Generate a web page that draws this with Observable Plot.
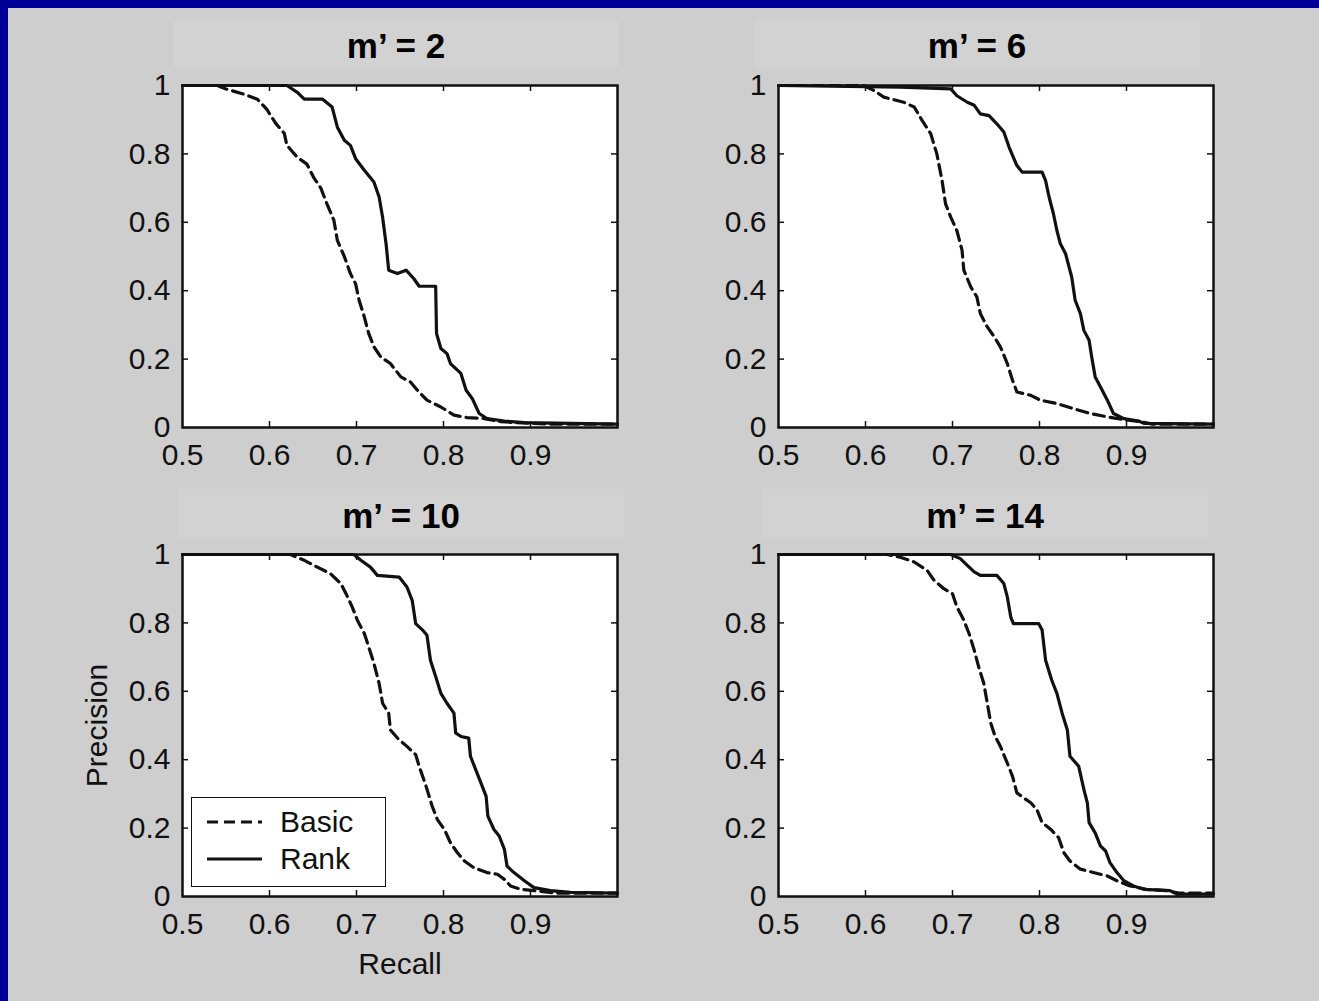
<!DOCTYPE html>
<html><head><meta charset="utf-8">
<script src="https://cdn.jsdelivr.net/npm/d3@7"></script>
<script src="https://cdn.jsdelivr.net/npm/@observablehq/plot@0.6"></script>
<style>
html,body{margin:0;padding:0;background:#cecece;}
#fig{position:relative;width:1319px;height:1001px;background:#cecece;overflow:hidden;font-family:"Liberation Sans",Arial,sans-serif;}
.blue-l{position:absolute;left:0;top:0;width:8px;height:1001px;background:#000099;}
.blue-t{position:absolute;left:0;top:0;width:1319px;height:8px;background:#000099;}
.tbar{position:absolute;width:446px;background:#d2d2d2;text-align:center;font-weight:bold;font-size:35px;color:#000;}
.panel{position:absolute;}
.legend{position:absolute;background:#fff;border:1.5px solid #111;box-sizing:border-box;}
.legend .row{position:absolute;left:0;height:30px;display:flex;align-items:center;font-size:30px;color:#111;}
</style></head>
<body><div id="fig"><div class="blue-l"></div><div class="blue-t"></div></div>
<script>
// ---- data ----
const titles = ["m\u2019 = 2", "m\u2019 = 6", "m\u2019 = 10", "m\u2019 = 14"];
const seriesNames = ["Basic", "Rank"];
const xTicks = [0.5, 0.6, 0.7, 0.8, 0.9];
const yTicks = [0, 0.2, 0.4, 0.6, 0.8, 1];

const basic_m2 = [[0.5,1],[0.54,1],[0.55,0.99],[0.57,0.975],[0.586,0.96],[0.597,0.93],[0.607,0.89],[0.617,0.86],[0.62,0.825],[0.632,0.79],[0.643,0.77],[0.651,0.73],[0.659,0.70],[0.666,0.654],[0.674,0.606],[0.678,0.547],[0.686,0.50],[0.693,0.45],[0.699,0.42],[0.703,0.372],[0.709,0.323],[0.714,0.275],[0.72,0.236],[0.728,0.206],[0.739,0.187],[0.751,0.148],[0.762,0.133],[0.77,0.109],[0.781,0.08],[0.797,0.06],[0.812,0.036],[0.827,0.029],[0.847,0.026],[0.866,0.017],[0.885,0.014],[0.92,0.01],[1.0,0.01]];
const rank_m2 = [[0.5,1],[0.62,1],[0.632,0.98],[0.64,0.96],[0.661,0.96],[0.672,0.937],[0.678,0.878],[0.686,0.84],[0.693,0.825],[0.699,0.786],[0.709,0.752],[0.72,0.718],[0.726,0.674],[0.73,0.615],[0.734,0.537],[0.737,0.46],[0.747,0.45],[0.757,0.46],[0.766,0.435],[0.772,0.413],[0.791,0.413],[0.792,0.275],[0.797,0.231],[0.804,0.216],[0.808,0.187],[0.82,0.158],[0.826,0.109],[0.833,0.085],[0.841,0.041],[0.85,0.026],[0.87,0.019],[0.893,0.014],[1.0,0.01]];

const basic_m6 = [[0.5,1],[0.598,1],[0.61,0.985],[0.621,0.966],[0.644,0.951],[0.656,0.937],[0.665,0.898],[0.675,0.859],[0.682,0.80],[0.688,0.722],[0.692,0.654],[0.698,0.615],[0.705,0.576],[0.711,0.518],[0.713,0.46],[0.721,0.411],[0.728,0.382],[0.732,0.333],[0.74,0.294],[0.748,0.265],[0.755,0.236],[0.763,0.187],[0.769,0.138],[0.774,0.104],[0.79,0.094],[0.801,0.08],[0.82,0.07],[0.839,0.055],[0.858,0.041],[0.878,0.031],[0.897,0.023],[0.916,0.017],[0.93,0.01],[1.0,0.01]];
const rank_m6 = [[0.5,1],[0.64,0.995],[0.698,0.99],[0.705,0.97],[0.717,0.951],[0.725,0.942],[0.732,0.917],[0.742,0.912],[0.751,0.888],[0.759,0.864],[0.765,0.82],[0.769,0.796],[0.774,0.766],[0.78,0.747],[0.803,0.747],[0.807,0.722],[0.811,0.674],[0.816,0.625],[0.82,0.576],[0.824,0.537],[0.83,0.508],[0.834,0.469],[0.837,0.44],[0.841,0.372],[0.847,0.333],[0.851,0.284],[0.857,0.255],[0.86,0.206],[0.864,0.148],[0.87,0.119],[0.878,0.08],[0.885,0.041],[0.897,0.026],[0.914,0.019],[0.92,0.012],[1.0,0.01]];

const basic_m10 = [[0.5,1],[0.624,1],[0.64,0.983],[0.655,0.963],[0.67,0.944],[0.682,0.915],[0.689,0.88],[0.695,0.847],[0.701,0.808],[0.709,0.769],[0.714,0.73],[0.72,0.682],[0.726,0.623],[0.73,0.565],[0.737,0.536],[0.739,0.487],[0.749,0.458],[0.758,0.439],[0.768,0.415],[0.772,0.381],[0.78,0.322],[0.787,0.264],[0.793,0.225],[0.801,0.196],[0.808,0.157],[0.816,0.128],[0.824,0.104],[0.835,0.084],[0.85,0.07],[0.862,0.065],[0.87,0.05],[0.877,0.031],[0.889,0.021],[0.904,0.017],[0.93,0.01],[1.0,0.01]];
const rank_m10 = [[0.5,1],[0.697,1],[0.705,0.983],[0.716,0.963],[0.724,0.939],[0.749,0.934],[0.758,0.905],[0.764,0.866],[0.768,0.798],[0.776,0.779],[0.781,0.764],[0.785,0.691],[0.791,0.643],[0.797,0.594],[0.804,0.565],[0.812,0.536],[0.814,0.478],[0.82,0.468],[0.829,0.463],[0.831,0.41],[0.837,0.371],[0.843,0.332],[0.849,0.293],[0.851,0.235],[0.858,0.196],[0.864,0.177],[0.87,0.138],[0.873,0.089],[0.881,0.07],[0.893,0.046],[0.904,0.026],[0.923,0.017],[0.946,0.012],[1.0,0.01]];

const basic_m14 = [[0.5,1],[0.625,1],[0.64,0.992],[0.656,0.978],[0.671,0.953],[0.679,0.924],[0.69,0.9],[0.7,0.885],[0.705,0.847],[0.713,0.808],[0.719,0.769],[0.725,0.72],[0.73,0.672],[0.736,0.623],[0.74,0.565],[0.744,0.507],[0.749,0.468],[0.755,0.439],[0.763,0.39],[0.769,0.351],[0.774,0.303],[0.782,0.288],[0.79,0.274],[0.797,0.254],[0.803,0.216],[0.813,0.196],[0.822,0.172],[0.828,0.128],[0.835,0.104],[0.847,0.08],[0.862,0.07],[0.878,0.06],[0.889,0.046],[0.904,0.031],[0.923,0.021],[0.946,0.017],[0.96,0.01],[1.0,0.01]];
const rank_m14 = [[0.5,1],[0.698,1],[0.709,0.988],[0.717,0.968],[0.725,0.949],[0.732,0.939],[0.751,0.939],[0.759,0.915],[0.763,0.876],[0.767,0.817],[0.77,0.798],[0.799,0.798],[0.803,0.779],[0.807,0.691],[0.814,0.633],[0.82,0.594],[0.826,0.536],[0.832,0.487],[0.835,0.41],[0.845,0.381],[0.851,0.313],[0.855,0.274],[0.857,0.216],[0.864,0.186],[0.87,0.148],[0.876,0.133],[0.881,0.099],[0.889,0.07],[0.897,0.046],[0.908,0.031],[0.92,0.021],[0.95,0.017],[0.958,0.007],[1.0,0.007]];

const basicSeries = [basic_m2, basic_m6, basic_m10, basic_m14];
const rankSeries = [rank_m2, rank_m6, rank_m10, rank_m14];

// ---- layout ----
const fig = document.getElementById("fig");
const FONT = '"Liberation Sans", Arial, sans-serif';
const frameLefts = [182, 778];
const frameTops = [85, 554];
const innerW = 435, innerH = 342;
const mL = 110, mR = 20, mT = 30, mB = 100;
const barLefts = [[173, 754], [178, 762]];
const barTops = [20, 489];
const INK = "#111";
const DASH = "11,6";

titles.forEach((title, i) => {
  const col = i % 2, row = Math.floor(i / 2);
  const isLabelled = (i === 2);

  const bar = document.createElement("div");
  bar.className = "tbar";
  bar.style.left = barLefts[row][col] + "px";
  bar.style.top = barTops[row] + "px";
  bar.style.height = (row === 0 ? 48 : 50) + "px";
  bar.style.lineHeight = (row === 0 ? 52 : 54) + "px";
  bar.textContent = title;
  fig.appendChild(bar);

  const marks = [
    Plot.frame({fill: "white"}),
    Plot.line(basicSeries[i], {x: d => d[0], y: d => d[1], stroke: INK, strokeWidth: 3.2, strokeDasharray: DASH}),
    Plot.line(rankSeries[i], {x: d => d[0], y: d => d[1], stroke: INK, strokeWidth: 3.2}),
    Plot.tickX(xTicks.slice(1), {x: d => d, insetTop: innerH - 6, stroke: INK, strokeWidth: 1.5}),
    Plot.tickX(xTicks.slice(1), {x: d => d, insetBottom: innerH - 6, stroke: INK, strokeWidth: 1.5}),
    Plot.tickY(yTicks.slice(1, -1), {y: d => d, insetRight: innerW - 6, stroke: INK, strokeWidth: 1.5}),
    Plot.tickY(yTicks.slice(1, -1), {y: d => d, insetLeft: innerW - 6, stroke: INK, strokeWidth: 1.5}),
    Plot.frame({stroke: INK, strokeWidth: 2.5}),
    Plot.axisX(xTicks, {tickSize: 0, tickPadding: 16, fontSize: 30, tickFormat: d => String(d), label: null, fill: INK}),
    Plot.axisY(yTicks, {tickSize: 0, tickPadding: 12, fontSize: 30, tickFormat: d => String(d), label: null, fill: INK})
  ];
  if (isLabelled) {
    marks.push(Plot.text(["Precision"], {frameAnchor: "left", textAnchor: "middle", lineAnchor: "middle", rotate: -90, dx: -85, fontSize: 30, fill: INK}));
    marks.push(Plot.text(["Recall"], {frameAnchor: "bottom", textAnchor: "middle", lineAnchor: "middle", dy: 68, fontSize: 30, fill: INK}));
  }
  const chart = Plot.plot({
    width: mL + innerW + mR,
    height: mT + innerH + mB,
    marginLeft: mL, marginRight: mR, marginTop: mT, marginBottom: mB,
    x: {domain: [0.5, 1], label: null},
    y: {domain: [0, 1], label: null},
    style: {background: "transparent", fontFamily: FONT, fontSize: "30px", color: INK},
    marks
  });
  const holder = document.createElement("div");
  holder.className = "panel";
  holder.style.left = (frameLefts[col] - mL) + "px";
  holder.style.top = (frameTops[row] - mT) + "px";
  holder.appendChild(chart);
  fig.appendChild(holder);
});

// legend (bottom-left panel)
const legend = document.createElement("div");
legend.className = "legend";
legend.style.left = "191px";
legend.style.top = "797px";
legend.style.width = "195px";
legend.style.height = "90px";
seriesNames.forEach((name, k) => {
  const row = document.createElement("div");
  row.className = "row";
  row.style.top = (k === 0 ? 9 : 46) + "px";
  const sw = d3.create("svg").attr("width", 88).attr("height", 30);
  sw.append("line").attr("x1", 15).attr("x2", 70).attr("y1", 15).attr("y2", 15)
    .attr("stroke", INK).attr("stroke-width", 3)
    .attr("stroke-dasharray", k === 0 ? DASH : null);
  row.appendChild(sw.node());
  const t = document.createElement("span");
  t.textContent = name;
  row.appendChild(t);
  legend.appendChild(row);
});
fig.appendChild(legend);
</script>
</body></html>
